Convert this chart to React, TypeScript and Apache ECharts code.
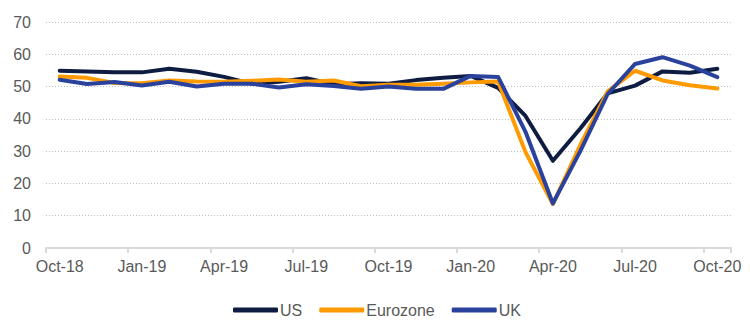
import React, { useEffect, useRef } from "react";
import * as echarts from "echarts";

const months = [
  "Oct-18", "Nov-18", "Dec-18", "Jan-19", "Feb-19", "Mar-19", "Apr-19", "May-19", "Jun-19",
  "Jul-19", "Aug-19", "Sep-19", "Oct-19", "Nov-19", "Dec-19", "Jan-20", "Feb-20", "Mar-20",
  "Apr-20", "May-20", "Jun-20", "Jul-20", "Aug-20", "Sep-20", "Oct-20",
];

const usValues = [
  54.9, 54.7, 54.4, 54.4, 55.5, 54.6, 53.0, 50.9, 51.5, 52.6, 50.7, 51.0, 50.9,
  52.0, 52.7, 53.3, 49.6, 40.9, 27.0, 37.0, 47.9, 50.3, 54.7, 54.3, 55.5,
];

const eurozoneValues = [
  53.1, 52.7, 51.1, 51.0, 51.9, 51.6, 51.5, 51.8, 52.2, 51.5, 51.9, 50.1, 50.6,
  50.6, 50.9, 51.3, 51.6, 29.7, 13.6, 31.9, 48.5, 54.9, 51.9, 50.4, 49.4,
];

const ukValues = [
  52.1, 50.8, 51.4, 50.3, 51.5, 50.0, 50.9, 50.9, 49.7, 50.7, 50.2, 49.3, 50.0,
  49.3, 49.3, 53.3, 53.0, 36.0, 13.8, 30.0, 47.7, 57.0, 59.1, 56.5, 52.9,
];

const seriesNames = ["US", "Eurozone", "UK"];
const seriesColors = ["#0e1c42", "#ff9a00", "#2a429c"];

export default function App() {
  const ref = useRef<HTMLDivElement>(null);

  useEffect(() => {
    if (!ref.current) return;
    const chart = echarts.init(ref.current, undefined, { renderer: "svg" });
    const font = "'Liberation Sans', Arial, sans-serif";
    const data = [usValues, eurozoneValues, ukValues];
    chart.setOption({
      animation: false,
      backgroundColor: "#ffffff",
      textStyle: { fontFamily: font },
      grid: { left: 46, right: 19, top: 22, bottom: 86, containLabel: false },
      legend: {
        left: 228,
        top: 297,
        icon: "roundRect",
        itemWidth: 45,
        itemHeight: 5,
        itemGap: 17,
        textStyle: { color: "#595959", fontSize: 16, fontFamily: font, padding: [0, 0, 0, -3] },
        data: seriesNames,
      },
      xAxis: {
        type: "category",
        data: months,
        boundaryGap: true,
        axisLine: { show: true, lineStyle: { color: "#d9d9d9", width: 2 } },
        axisTick: { show: true, interval: 2, length: 5, lineStyle: { color: "#d9d9d9", width: 2 } },
        axisLabel: { interval: 2, color: "#595959", fontSize: 16, margin: 10, fontFamily: font },
        splitLine: { show: false },
      },
      yAxis: {
        type: "value",
        min: 0,
        max: 70,
        interval: 10,
        axisLine: { show: false },
        axisTick: { show: false },
        axisLabel: { color: "#595959", fontSize: 16, margin: 15, fontFamily: font },
        splitLine: { show: true, lineStyle: { color: "#bfbfbf", width: 1, type: [1, 2] } },
      },
      series: seriesNames.map((name, i) => ({
        name,
        type: "line",
        data: data[i],
        showSymbol: false,
        symbol: "none",
        color: seriesColors[i],
        lineStyle: { color: seriesColors[i], width: 4, cap: "round", join: "round" },
        z: 2 + (i === 1 ? 0 : i),
      })),
    });
    return () => chart.dispose();
  }, []);

  return (
    <div
      ref={ref}
      style={{ position: "fixed", left: 0, top: 0, width: 750, height: 334, background: "#fff" }}
    />
  );
}
